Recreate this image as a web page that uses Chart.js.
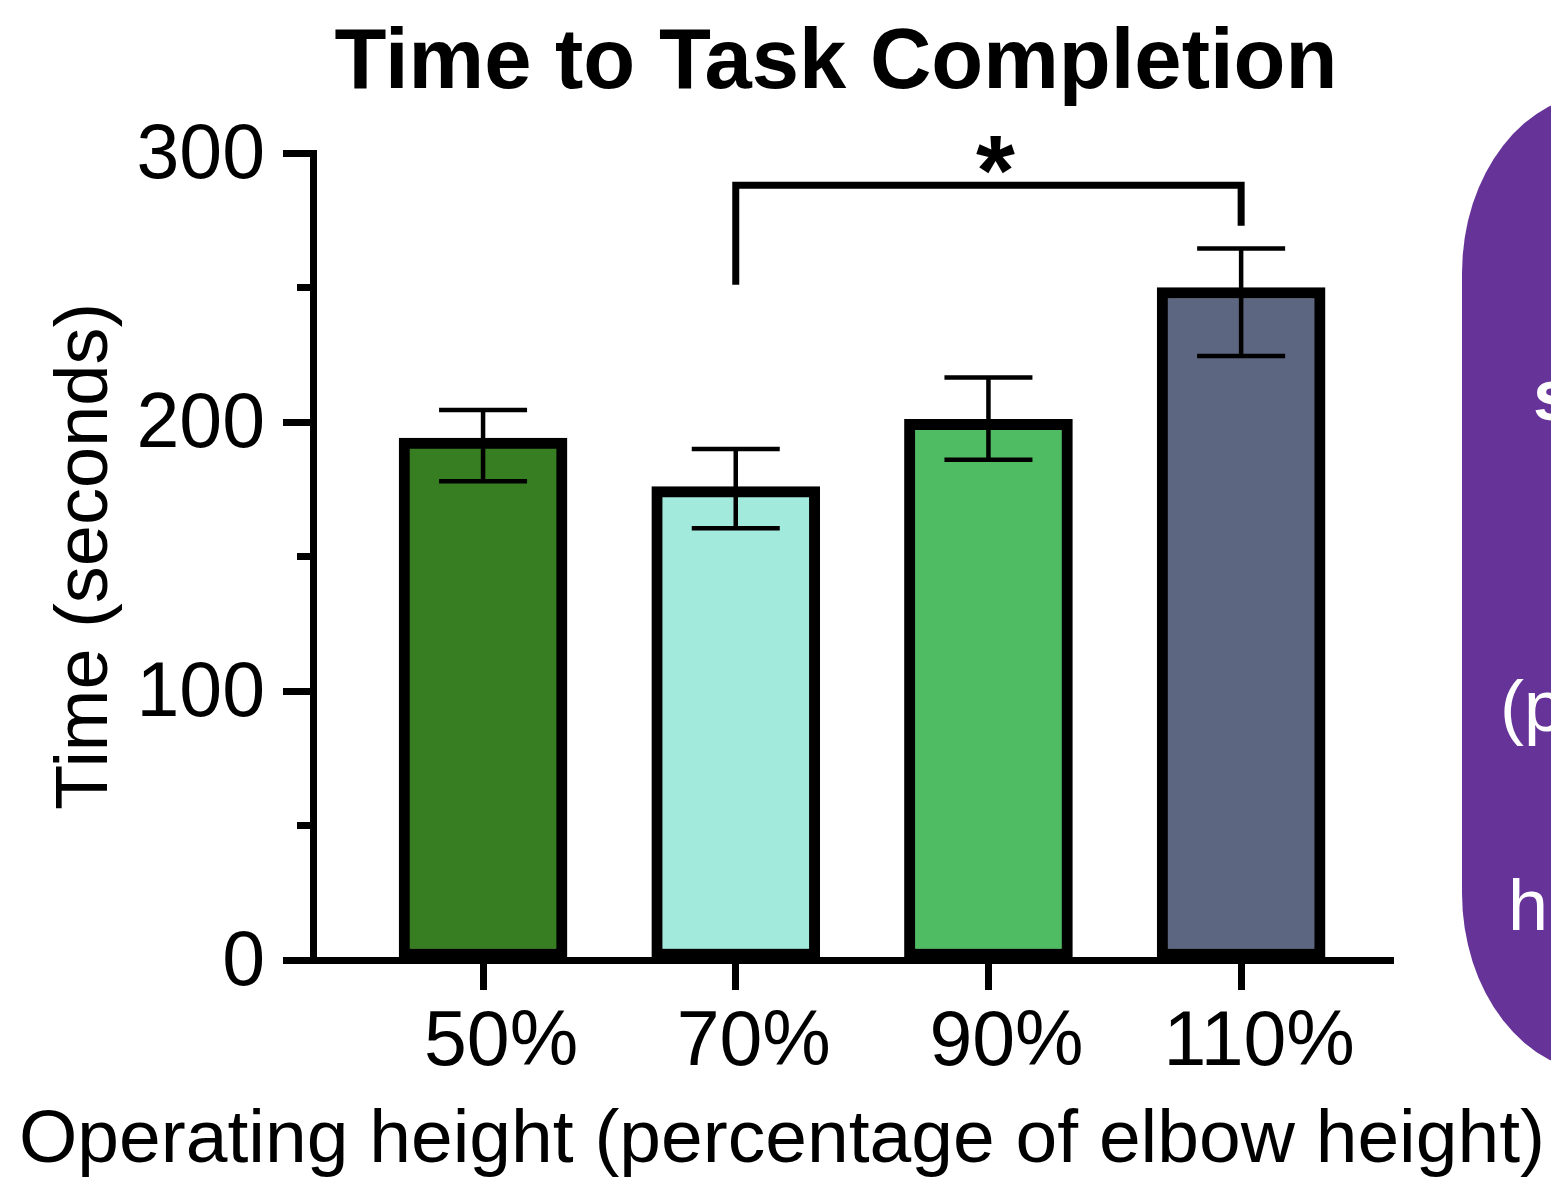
<!DOCTYPE html>
<html>
<head>
<meta charset="utf-8">
<title>Time to Task Completion</title>
<script src="https://cdn.jsdelivr.net/npm/chart.js@4.4.1/dist/chart.umd.min.js"></script>
<style>
  html, body { margin: 0; padding: 0; background: #fff; overflow: hidden; }
  body { width: 1551px; height: 1188px; position: relative; font-family: "Liberation Sans", Arial, sans-serif; }
  #timeChart { position: absolute; left: 0; top: 0; }
  #sideBox {
    position: absolute; left: 1462px; top: 93px; width: 320px; height: 980px;
    background: #663399; border-radius: 140px / 180px;
  }
  .sideText { position: absolute; color: #fff; font-size: 72px; line-height: 1; white-space: nowrap; }
</style>
</head>
<body>
<canvas id="timeChart" width="1551" height="1188"></canvas>
<div id="sideBox"></div>
<div class="sideText" style="left:1533px; top:359px; font-weight:bold;">s</div>
<div class="sideText" style="left:1500px; top:670px;">(p</div>
<div class="sideText" style="left:1508px; top:869px;">h</div>
<script>
// data
var categories = ["50%", "70%", "90%", "110%"];
var meanTime = [194, 176, 201, 250];
var errLow = [178, 160.5, 186, 224.5];
var errHigh = [204.5, 190, 216.5, 264.5];
var barColors = ["#377e22", "#a2eadc", "#4fbb62", "#5d6680"];
var yMinorTicks = [50, 150, 250];
// significance bracket: category indices, top level, leg ends
var sigPair = [1, 3];
var sigTop = 288;
var sigLegEnds = [251, 273];
var sigLabel = "*";

(function(){
  Chart.defaults.font.family = '"Liberation Sans", Arial, sans-serif';
  Chart.defaults.color = "#000";

  var points = [];
  for (var i = 0; i < categories.length; i++){
    points.push({x: i, y: meanTime[i]});
  }

  // error bars, minor y ticks and the bracket, all through the scales
  var extras = {
    id: "extras",
    afterDatasetsDraw: function(chart){
      var ctx = chart.ctx;
      var xs = chart.scales.x, ys = chart.scales.y;
      ctx.save();
      ctx.strokeStyle = "#000";
      ctx.lineCap = "butt";

      ctx.lineWidth = 4.5;
      for (var i = 0; i < categories.length; i++){
        var px = xs.getPixelForValue(i);
        var top = ys.getPixelForValue(errHigh[i]);
        var bot = ys.getPixelForValue(errLow[i]);
        ctx.beginPath();
        ctx.moveTo(px, top); ctx.lineTo(px, bot);
        ctx.moveTo(px - 44, top); ctx.lineTo(px + 44, top);
        ctx.moveTo(px - 44, bot); ctx.lineTo(px + 44, bot);
        ctx.stroke();
      }

      ctx.lineWidth = 7;
      var axisX = chart.chartArea.left;
      yMinorTicks.forEach(function(v){
        var py = ys.getPixelForValue(v);
        ctx.beginPath();
        ctx.moveTo(axisX - 16, py); ctx.lineTo(axisX, py);
        ctx.stroke();
      });

      var x1 = xs.getPixelForValue(sigPair[0]);
      var x2 = xs.getPixelForValue(sigPair[1]);
      var yt = ys.getPixelForValue(sigTop);
      ctx.lineWidth = 7;
      ctx.lineJoin = "miter";
      ctx.beginPath();
      ctx.moveTo(x1, ys.getPixelForValue(sigLegEnds[0]));
      ctx.lineTo(x1, yt);
      ctx.lineTo(x2, yt);
      ctx.lineTo(x2, ys.getPixelForValue(sigLegEnds[1]));
      ctx.stroke();

      ctx.fillStyle = "#000";
      ctx.textAlign = "center";
      ctx.textBaseline = "alphabetic";
      ctx.font = 'bold 100px "Liberation Sans", Arial, sans-serif';
      ctx.fillText(sigLabel, (x1 + x2) / 2 + 7, yt + 20);
      ctx.restore();
    },
    afterDraw: function(chart){
      var ctx = chart.ctx;
      ctx.save();
      ctx.fillStyle = "#000";
      ctx.textAlign = "center";
      ctx.textBaseline = "middle";
      ctx.font = 'bold 85px "Liberation Sans", Arial, sans-serif';
      ctx.fillText("Time to Task Completion", 836, 65);
      ctx.font = '75px "Liberation Sans", Arial, sans-serif';
      ctx.fillText("Operating height (percentage of elbow height)", 782, 1141);
      ctx.restore();
    }
  };

  var timeChart = new Chart(document.getElementById("timeChart"), {
    type: "bar",
    data: {
      datasets: [{
        data: points,
        backgroundColor: barColors,
        borderColor: "#000",
        borderWidth: 11,
        borderSkipped: false,
        barThickness: 168
      }]
    },
    options: {
      responsive: false,
      animation: false,
      devicePixelRatio: 1,
      layout: { padding: { left: 0, right: 158, top: 153, bottom: 0 } },
      plugins: {
        legend: { display: false },
        tooltip: { enabled: false }
      },
      scales: {
        x: {
          type: "linear",
          offset: false,
          min: -0.673,
          max: 3.601,
          afterFit: function(scale){ scale.height = 228; },
          border: { display: true, color: "#000", width: 7 },
          grid: { offset: false, drawOnChartArea: false, drawTicks: true, tickLength: 30, tickWidth: 7, tickColor: "#000" },
          ticks: {
            stepSize: 1,
            includeBounds: false,
            padding: 8,
            labelOffset: 18,
            maxRotation: 0,
            font: { size: 77 },
            callback: function(v){ return categories[v] !== undefined ? categories[v] : ""; }
          }
        },
        y: {
          min: 0,
          max: 300,
          afterFit: function(scale){ scale.width = 313; },
          border: { display: true, color: "#000", width: 7 },
          grid: { drawOnChartArea: false, drawTicks: true, tickLength: 30, tickWidth: 7, tickColor: "#000" },
          ticks: { stepSize: 100, padding: 18, labelOffset: 4, font: { size: 77 } },
          title: {
            display: true,
            text: "Time (seconds)",
            font: { size: 74 },
            padding: { top: 42, bottom: 0 }
          }
        }
      }
    },
    plugins: [extras]
  });
})();
</script>
</body>
</html>
